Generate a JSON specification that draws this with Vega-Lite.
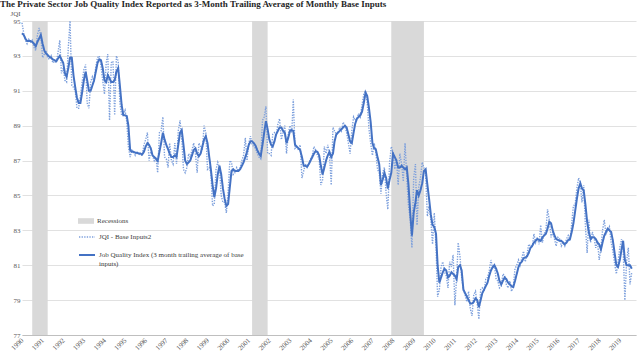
{
"$schema": "https://vega.github.io/schema/vega-lite/v6.json",
"width": 614, "height": 314,
"autosize": {"type": "none"},
"padding": {"left": 22, "top": 21, "right": 4, "bottom": 25},
"background": "white",
"title": {"text": "The Private Sector Job Quality Index Reported as 3-Month Trailing Average of Monthly Base Inputs", "anchor": "start", "frame": "group", "dx": -22, "offset": 0, "font": "Liberation Serif", "fontSize": 9, "fontWeight": "bold", "color": "#262626"},
"config": {
 "view": {"stroke": null},
 "font": "Liberation Serif",
 "axis": {"labelFont": "Liberation Serif", "labelColor": "#595959", "labelFontSize": 7, "ticks": false, "gridColor": "#d9d9d9", "gridWidth": 0.8},
 "axisX": {"grid": false, "domain": true, "domainColor": "#bfbfbf", "labelAngle": -45, "labelAlign": "right", "labelBaseline": "middle", "labelPadding": 4, "labelOverlap": false, "labelFlush": false},
 "axisY": {"grid": true, "domain": false, "labelPadding": 2}
},
"datasets": {
"r": [
{"s": "1990-07-01", "e": "1991-04-01", "l": "Recessions"},
{"s": "2001-03-01", "e": "2001-12-01", "l": "Recessions"},
{"s": "2007-12-01", "e": "2009-07-01", "l": "Recessions"}
],
"m": [
{"d":"1990-01-01","b":94.9,"j":94.3},{"d":"1990-02-01","b":94.3,"j":94.2},{"d":"1990-03-01","b":93.9,"j":94.0},{"d":"1990-04-01","b":93.7,"j":93.85},{"d":"1990-05-01","b":93.95,"j":93.85},{"d":"1990-06-01","b":93.8,"j":93.85},{"d":"1990-07-01","b":93.9,"j":93.8},{"d":"1990-08-01","b":93.5,"j":93.7},{"d":"1990-09-01","b":93.3,"j":93.55},{"d":"1990-10-01","b":94.2,"j":93.8},{"d":"1990-11-01","b":94.6,"j":94.0},{"d":"1990-12-01","b":94.1,"j":94.2},
{"d":"1991-01-01","b":92.9,"j":93.7},{"d":"1991-02-01","b":93.1,"j":93.3},{"d":"1991-03-01","b":93.3,"j":93.15},{"d":"1991-04-01","b":92.9,"j":93.05},{"d":"1991-05-01","b":92.8,"j":92.95},{"d":"1991-06-01","b":93.0,"j":92.9},{"d":"1991-07-01","b":92.6,"j":92.8},{"d":"1991-08-01","b":92.7,"j":92.75},{"d":"1991-09-01","b":92.6,"j":92.7},{"d":"1991-10-01","b":93.2,"j":92.85},{"d":"1991-11-01","b":93.9,"j":93.0},{"d":"1991-12-01","b":92.0,"j":92.8},
{"d":"1992-01-01","b":92.3,"j":92.6},{"d":"1992-02-01","b":91.6,"j":92.0},{"d":"1992-03-01","b":91.5,"j":91.8},{"d":"1992-04-01","b":93.5,"j":92.3},{"d":"1992-05-01","b":95.0,"j":92.9},{"d":"1992-06-01","b":91.3,"j":92.9},{"d":"1992-07-01","b":91.2,"j":91.9},{"d":"1992-08-01","b":91.0,"j":91.2},{"d":"1992-09-01","b":90.0,"j":90.6},{"d":"1992-10-01","b":90.0,"j":90.3},{"d":"1992-11-01","b":90.7,"j":90.3},{"d":"1992-12-01","b":91.5,"j":90.9},
{"d":"1993-01-01","b":92.2,"j":91.6},{"d":"1993-02-01","b":92.5,"j":92.1},{"d":"1993-03-01","b":90.3,"j":91.6},{"d":"1993-04-01","b":90.0,"j":91.0},{"d":"1993-05-01","b":91.5,"j":91.0},{"d":"1993-06-01","b":91.8,"j":91.3},{"d":"1993-07-01","b":91.5,"j":91.6},{"d":"1993-08-01","b":92.4,"j":92.1},{"d":"1993-09-01","b":92.9,"j":92.6},{"d":"1993-10-01","b":93.0,"j":92.8},{"d":"1993-11-01","b":92.4,"j":92.75},{"d":"1993-12-01","b":91.6,"j":92.3},
{"d":"1994-01-01","b":90.8,"j":91.6},{"d":"1994-02-01","b":92.6,"j":91.5},{"d":"1994-03-01","b":93.1,"j":91.9},{"d":"1994-04-01","b":89.3,"j":91.7},{"d":"1994-05-01","b":92.6,"j":91.5},{"d":"1994-06-01","b":92.7,"j":91.5},{"d":"1994-07-01","b":89.6,"j":91.6},{"d":"1994-08-01","b":93.0,"j":92.1},{"d":"1994-09-01","b":92.7,"j":92.3},{"d":"1994-10-01","b":90.3,"j":91.3},{"d":"1994-11-01","b":89.6,"j":90.2},{"d":"1994-12-01","b":89.7,"j":89.6},
{"d":"1995-01-01","b":89.9,"j":89.6},{"d":"1995-02-01","b":89.2,"j":89.55},{"d":"1995-03-01","b":87.8,"j":89.0},{"d":"1995-04-01","b":87.2,"j":87.6},{"d":"1995-05-01","b":87.6,"j":87.5},{"d":"1995-06-01","b":87.5,"j":87.5},{"d":"1995-07-01","b":87.3,"j":87.45},{"d":"1995-08-01","b":87.5,"j":87.45},{"d":"1995-09-01","b":87.4,"j":87.4},{"d":"1995-10-01","b":87.3,"j":87.4},{"d":"1995-11-01","b":87.3,"j":87.35},{"d":"1995-12-01","b":87.9,"j":87.5},
{"d":"1996-01-01","b":88.2,"j":87.8},{"d":"1996-02-01","b":88.6,"j":88.0},{"d":"1996-03-01","b":87.0,"j":87.9},{"d":"1996-04-01","b":87.5,"j":87.7},{"d":"1996-05-01","b":87.3,"j":87.3},{"d":"1996-06-01","b":87.0,"j":87.2},{"d":"1996-07-01","b":87.2,"j":87.1},{"d":"1996-08-01","b":86.3,"j":86.98},{"d":"1996-09-01","b":88.6,"j":87.5},{"d":"1996-10-01","b":88.7,"j":88.0},{"d":"1996-11-01","b":89.5,"j":88.6},{"d":"1996-12-01","b":87.2,"j":88.2},
{"d":"1997-01-01","b":87.1,"j":87.9},{"d":"1997-02-01","b":86.6,"j":87.65},{"d":"1997-03-01","b":88.0,"j":87.4},{"d":"1997-04-01","b":87.0,"j":87.2},{"d":"1997-05-01","b":86.8,"j":87.2},{"d":"1997-06-01","b":88.0,"j":87.3},{"d":"1997-07-01","b":86.8,"j":87.2},{"d":"1997-08-01","b":88.7,"j":87.9},{"d":"1997-09-01","b":89.3,"j":88.6},{"d":"1997-10-01","b":88.3,"j":88.75},{"d":"1997-11-01","b":86.5,"j":87.9},{"d":"1997-12-01","b":86.3,"j":87.0},
{"d":"1998-01-01","b":86.6,"j":86.8},{"d":"1998-02-01","b":87.4,"j":86.9},{"d":"1998-03-01","b":87.2,"j":87.0},{"d":"1998-04-01","b":87.6,"j":87.3},{"d":"1998-05-01","b":88.0,"j":87.6},{"d":"1998-06-01","b":87.4,"j":87.7},{"d":"1998-07-01","b":86.3,"j":87.4},{"d":"1998-08-01","b":88.0,"j":87.25},{"d":"1998-09-01","b":87.8,"j":87.4},{"d":"1998-10-01","b":87.6,"j":87.8},{"d":"1998-11-01","b":89.0,"j":88.2},{"d":"1998-12-01","b":88.6,"j":88.4},
{"d":"1999-01-01","b":86.5,"j":88.0},{"d":"1999-02-01","b":86.6,"j":87.2},{"d":"1999-03-01","b":86.3,"j":86.5},{"d":"1999-04-01","b":84.4,"j":85.6},{"d":"1999-05-01","b":84.5,"j":84.9},{"d":"1999-06-01","b":86.5,"j":85.4},{"d":"1999-07-01","b":86.9,"j":86.2},{"d":"1999-08-01","b":86.6,"j":86.7},{"d":"1999-09-01","b":85.0,"j":86.2},{"d":"1999-10-01","b":84.6,"j":85.4},{"d":"1999-11-01","b":84.6,"j":84.8},{"d":"1999-12-01","b":84.0,"j":84.4},
{"d":"2000-01-01","b":85.2,"j":84.5},{"d":"2000-02-01","b":87.0,"j":85.5},{"d":"2000-03-01","b":86.9,"j":86.4},{"d":"2000-04-01","b":86.2,"j":86.5},{"d":"2000-05-01","b":86.3,"j":86.4},{"d":"2000-06-01","b":86.6,"j":86.4},{"d":"2000-07-01","b":86.4,"j":86.4},{"d":"2000-08-01","b":86.6,"j":86.5},{"d":"2000-09-01","b":87.0,"j":86.7},{"d":"2000-10-01","b":87.3,"j":86.9},{"d":"2000-11-01","b":88.3,"j":87.2},{"d":"2000-12-01","b":87.0,"j":87.5},
{"d":"2001-01-01","b":88.0,"j":87.9},{"d":"2001-02-01","b":88.4,"j":88.1},{"d":"2001-03-01","b":87.9,"j":88.1},{"d":"2001-04-01","b":87.8,"j":88.0},{"d":"2001-05-01","b":87.7,"j":87.85},{"d":"2001-06-01","b":87.4,"j":87.6},{"d":"2001-07-01","b":87.2,"j":87.4},{"d":"2001-08-01","b":87.1,"j":87.26},{"d":"2001-09-01","b":89.3,"j":87.9},{"d":"2001-10-01","b":89.5,"j":88.6},{"d":"2001-11-01","b":90.1,"j":89.26},{"d":"2001-12-01","b":87.4,"j":88.8},
{"d":"2002-01-01","b":87.4,"j":88.2},{"d":"2002-02-01","b":87.3,"j":87.9},{"d":"2002-03-01","b":88.5,"j":87.8},{"d":"2002-04-01","b":88.6,"j":88.1},{"d":"2002-05-01","b":88.4,"j":88.5},{"d":"2002-06-01","b":89.1,"j":88.7},{"d":"2002-07-01","b":89.4,"j":88.9},{"d":"2002-08-01","b":88.2,"j":88.9},{"d":"2002-09-01","b":88.6,"j":88.7},{"d":"2002-10-01","b":89.0,"j":88.6},{"d":"2002-11-01","b":87.4,"j":88.0},{"d":"2002-12-01","b":88.5,"j":88.3},
{"d":"2003-01-01","b":89.0,"j":88.7},{"d":"2003-02-01","b":88.6,"j":88.75},{"d":"2003-03-01","b":90.5,"j":88.7},{"d":"2003-04-01","b":87.7,"j":87.9},{"d":"2003-05-01","b":87.8,"j":87.8},{"d":"2003-06-01","b":87.6,"j":87.7},{"d":"2003-07-01","b":87.9,"j":87.6},{"d":"2003-08-01","b":86.0,"j":87.2},{"d":"2003-09-01","b":86.4,"j":86.7},{"d":"2003-10-01","b":86.8,"j":86.7},{"d":"2003-11-01","b":86.6,"j":86.65},{"d":"2003-12-01","b":86.8,"j":86.8},
{"d":"2004-01-01","b":87.1,"j":87.0},{"d":"2004-02-01","b":87.3,"j":87.2},{"d":"2004-03-01","b":87.8,"j":87.4},{"d":"2004-04-01","b":87.6,"j":87.55},{"d":"2004-05-01","b":87.3,"j":87.5},{"d":"2004-06-01","b":87.1,"j":87.3},{"d":"2004-07-01","b":85.6,"j":86.7},{"d":"2004-08-01","b":85.9,"j":86.2},{"d":"2004-09-01","b":87.8,"j":86.6},{"d":"2004-10-01","b":87.4,"j":87.0},{"d":"2004-11-01","b":87.9,"j":87.3},{"d":"2004-12-01","b":87.4,"j":87.5},
{"d":"2005-01-01","b":85.6,"j":87.2},{"d":"2005-02-01","b":88.9,"j":87.4},{"d":"2005-03-01","b":88.7,"j":88.1},{"d":"2005-04-01","b":88.5,"j":88.5},{"d":"2005-05-01","b":88.6,"j":88.6},{"d":"2005-06-01","b":88.9,"j":88.7},{"d":"2005-07-01","b":88.7,"j":88.8},{"d":"2005-08-01","b":89.2,"j":88.9},{"d":"2005-09-01","b":89.0,"j":89.0},{"d":"2005-10-01","b":88.6,"j":88.9},{"d":"2005-11-01","b":88.0,"j":88.5},{"d":"2005-12-01","b":87.4,"j":88.1},
{"d":"2006-01-01","b":88.7,"j":88.0},{"d":"2006-02-01","b":89.5,"j":88.6},{"d":"2006-03-01","b":89.3,"j":89.1},{"d":"2006-04-01","b":89.4,"j":89.4},{"d":"2006-05-01","b":89.7,"j":89.5},{"d":"2006-06-01","b":89.5,"j":89.6},{"d":"2006-07-01","b":90.2,"j":89.8},{"d":"2006-08-01","b":90.8,"j":90.3},{"d":"2006-09-01","b":91.0,"j":90.9},{"d":"2006-10-01","b":90.3,"j":90.7},{"d":"2006-11-01","b":88.8,"j":90.0},{"d":"2006-12-01","b":88.0,"j":89.2},
{"d":"2007-01-01","b":87.3,"j":88.0},{"d":"2007-02-01","b":88.0,"j":87.7},{"d":"2007-03-01","b":87.5,"j":87.65},{"d":"2007-04-01","b":86.5,"j":87.2},{"d":"2007-05-01","b":86.3,"j":86.8},{"d":"2007-06-01","b":85.1,"j":85.6},{"d":"2007-07-01","b":86.3,"j":85.9},{"d":"2007-08-01","b":86.6,"j":86.3},{"d":"2007-09-01","b":85.1,"j":86.0},{"d":"2007-10-01","b":84.2,"j":85.4},{"d":"2007-11-01","b":86.9,"j":85.9},{"d":"2007-12-01","b":87.8,"j":86.3},
{"d":"2008-01-01","b":87.5,"j":87.4},{"d":"2008-02-01","b":86.5,"j":87.2},{"d":"2008-03-01","b":87.1,"j":87.0},{"d":"2008-04-01","b":85.6,"j":86.6},{"d":"2008-05-01","b":87.4,"j":86.6},{"d":"2008-06-01","b":86.8,"j":86.7},{"d":"2008-07-01","b":85.8,"j":86.6},{"d":"2008-08-01","b":88.0,"j":86.5},{"d":"2008-09-01","b":86.0,"j":86.6},{"d":"2008-10-01","b":84.4,"j":85.6},{"d":"2008-11-01","b":83.6,"j":84.0},{"d":"2008-12-01","b":82.0,"j":82.7},
{"d":"2009-01-01","b":86.0,"j":84.0},{"d":"2009-02-01","b":86.8,"j":84.6},{"d":"2009-03-01","b":83.3,"j":85.3},{"d":"2009-04-01","b":85.5,"j":85.0},{"d":"2009-05-01","b":86.0,"j":85.3},{"d":"2009-06-01","b":86.9,"j":85.7},{"d":"2009-07-01","b":86.6,"j":86.4},{"d":"2009-08-01","b":86.2,"j":86.5},{"d":"2009-09-01","b":83.8,"j":85.6},{"d":"2009-10-01","b":84.4,"j":84.8},{"d":"2009-11-01","b":83.6,"j":83.9},{"d":"2009-12-01","b":82.2,"j":83.3},
{"d":"2010-01-01","b":84.0,"j":83.2},{"d":"2010-02-01","b":82.0,"j":82.8},{"d":"2010-03-01","b":79.2,"j":81.0},{"d":"2010-04-01","b":79.6,"j":80.0},{"d":"2010-05-01","b":80.9,"j":80.3},{"d":"2010-06-01","b":81.2,"j":80.6},{"d":"2010-07-01","b":80.6,"j":80.8},{"d":"2010-08-01","b":80.4,"j":80.7},{"d":"2010-09-01","b":79.7,"j":80.3},{"d":"2010-10-01","b":81.2,"j":80.4},{"d":"2010-11-01","b":80.9,"j":80.6},{"d":"2010-12-01","b":81.6,"j":80.5},
{"d":"2011-01-01","b":78.7,"j":80.4},{"d":"2011-02-01","b":80.3,"j":80.2},{"d":"2011-03-01","b":82.3,"j":80.9},{"d":"2011-04-01","b":81.5,"j":81.0},{"d":"2011-05-01","b":80.3,"j":80.7},{"d":"2011-06-01","b":79.6,"j":79.6},{"d":"2011-07-01","b":79.3,"j":79.4},{"d":"2011-08-01","b":78.9,"j":79.2},{"d":"2011-09-01","b":79.5,"j":79.0},{"d":"2011-10-01","b":78.5,"j":78.8},{"d":"2011-11-01","b":78.1,"j":78.8},{"d":"2011-12-01","b":79.3,"j":78.9},
{"d":"2012-01-01","b":79.5,"j":79.1},{"d":"2012-02-01","b":78.8,"j":79.0},{"d":"2012-03-01","b":77.9,"j":78.6},{"d":"2012-04-01","b":79.6,"j":79.0},{"d":"2012-05-01","b":79.7,"j":79.4},{"d":"2012-06-01","b":79.5,"j":79.6},{"d":"2012-07-01","b":80.2,"j":79.8},{"d":"2012-08-01","b":80.3,"j":80.0},{"d":"2012-09-01","b":80.7,"j":80.4},{"d":"2012-10-01","b":81.3,"j":80.7},{"d":"2012-11-01","b":80.8,"j":80.9},{"d":"2012-12-01","b":81.0,"j":81.0},
{"d":"2013-01-01","b":80.2,"j":80.8},{"d":"2013-02-01","b":80.1,"j":80.5},{"d":"2013-03-01","b":79.7,"j":80.1},{"d":"2013-04-01","b":79.8,"j":79.9},{"d":"2013-05-01","b":80.5,"j":80.1},{"d":"2013-06-01","b":80.4,"j":80.3},{"d":"2013-07-01","b":79.9,"j":80.2},{"d":"2013-08-01","b":79.7,"j":80.0},{"d":"2013-09-01","b":80.1,"j":79.9},{"d":"2013-10-01","b":79.5,"j":79.8},{"d":"2013-11-01","b":79.8,"j":79.75},{"d":"2013-12-01","b":80.8,"j":80.1},
{"d":"2014-01-01","b":81.0,"j":80.5},{"d":"2014-02-01","b":81.3,"j":80.9},{"d":"2014-03-01","b":81.0,"j":81.1},{"d":"2014-04-01","b":81.4,"j":81.2},{"d":"2014-05-01","b":81.8,"j":81.4},{"d":"2014-06-01","b":81.2,"j":81.45},{"d":"2014-07-01","b":81.6,"j":81.5},{"d":"2014-08-01","b":82.2,"j":81.7},{"d":"2014-09-01","b":82.1,"j":82.0},{"d":"2014-10-01","b":82.0,"j":82.1},{"d":"2014-11-01","b":82.8,"j":82.3},{"d":"2014-12-01","b":82.3,"j":82.4},
{"d":"2015-01-01","b":82.6,"j":82.5},{"d":"2015-02-01","b":82.2,"j":82.45},{"d":"2015-03-01","b":83.3,"j":82.4},{"d":"2015-04-01","b":82.3,"j":82.6},{"d":"2015-05-01","b":82.8,"j":82.7},{"d":"2015-06-01","b":83.0,"j":82.8},{"d":"2015-07-01","b":84.2,"j":83.1},{"d":"2015-08-01","b":83.6,"j":83.5},{"d":"2015-09-01","b":82.6,"j":83.4},{"d":"2015-10-01","b":82.9,"j":83.0},{"d":"2015-11-01","b":82.5,"j":82.7},{"d":"2015-12-01","b":82.1,"j":82.5},
{"d":"2016-01-01","b":82.6,"j":82.45},{"d":"2016-02-01","b":82.5,"j":82.4},{"d":"2016-03-01","b":82.1,"j":82.4},{"d":"2016-04-01","b":82.3,"j":82.3},{"d":"2016-05-01","b":82.1,"j":82.2},{"d":"2016-06-01","b":82.5,"j":82.3},{"d":"2016-07-01","b":82.7,"j":82.45},{"d":"2016-08-01","b":82.4,"j":82.5},{"d":"2016-09-01","b":83.4,"j":82.9},{"d":"2016-10-01","b":84.4,"j":83.4},{"d":"2016-11-01","b":84.5,"j":84.1},{"d":"2016-12-01","b":85.4,"j":84.8},
{"d":"2017-01-01","b":86.0,"j":85.4},{"d":"2017-02-01","b":85.7,"j":85.7},{"d":"2017-03-01","b":84.6,"j":85.4},{"d":"2017-04-01","b":85.6,"j":85.3},{"d":"2017-05-01","b":83.3,"j":84.5},{"d":"2017-06-01","b":81.7,"j":83.5},{"d":"2017-07-01","b":83.6,"j":82.9},{"d":"2017-08-01","b":82.3,"j":82.5},{"d":"2017-09-01","b":82.9,"j":82.6},{"d":"2017-10-01","b":82.6,"j":82.6},{"d":"2017-11-01","b":82.0,"j":82.5},{"d":"2017-12-01","b":82.4,"j":82.3},
{"d":"2018-01-01","b":81.3,"j":82.2},{"d":"2018-02-01","b":82.0,"j":81.9},{"d":"2018-03-01","b":83.0,"j":82.3},{"d":"2018-04-01","b":83.6,"j":82.7},{"d":"2018-05-01","b":82.8,"j":82.9},{"d":"2018-06-01","b":83.0,"j":83.1},{"d":"2018-07-01","b":83.2,"j":83.0},{"d":"2018-08-01","b":82.3,"j":82.9},{"d":"2018-09-01","b":81.8,"j":82.4},{"d":"2018-10-01","b":81.1,"j":81.7},{"d":"2018-11-01","b":80.5,"j":81.0},{"d":"2018-12-01","b":81.2,"j":80.9},
{"d":"2019-01-01","b":82.0,"j":81.3},{"d":"2019-02-01","b":82.5,"j":81.9},{"d":"2019-03-01","b":82.0,"j":82.4},{"d":"2019-04-01","b":79.0,"j":81.3},{"d":"2019-05-01","b":81.2,"j":81.0},{"d":"2019-06-01","b":82.0,"j":81.0},{"d":"2019-07-01","b":79.9,"j":81.0},{"d":"2019-08-01","b":80.6,"j":80.8}
]
},
"layer": [
{
 "data": {"name": "r"},
 "mark": {"type": "rect"},
 "encoding": {
  "x": {"field": "s", "type": "temporal", "title": null, "scale": {"type": "utc", "domain": ["1990-01-01", "2019-10-15"]}, "axis": {"format": "%Y", "formatType": "utc", "tickCount": {"interval": "year", "step": 1}}},
  "x2": {"field": "e"},
  "fill": {"field": "l", "type": "nominal", "scale": {"range": ["#d9d9d9"]}, "legend": {"orient": "none", "legendX": 56, "legendY": 192, "title": null, "symbolType": "M-1,-0.35H1V0.35H-1Z", "symbolSize": 256, "symbolStrokeWidth": 0, "labelFontSize": 7, "labelFont": "Liberation Serif", "labelColor": "#404040", "labelOffset": 3}}
 }
},
{
 "data": {"name": "m"},
 "transform": [{"fold": ["b", "j"], "as": ["k", "v"]}],
 "mark": {"type": "line", "interpolate": "linear"},
 "encoding": {
  "x": {"field": "d", "type": "temporal", "title": null, "scale": {"type": "utc", "domain": ["1990-01-01", "2019-10-15"]}, "axis": {"format": "%Y", "formatType": "utc", "tickCount": {"interval": "year", "step": 1}}},
  "y": {"field": "v", "type": "quantitative", "scale": {"domain": [77, 95], "nice": false, "zero": false}, "axis": {"values": [77, 79, 81, 83, 85, 87, 89, 91, 93, 95], "title": "JQI", "titleAngle": 0, "titleX": -12, "titleY": -6, "titleAlign": "left", "titleBaseline": "alphabetic", "titleFont": "Liberation Serif", "titleFontSize": 7, "titleFontWeight": "normal", "titleColor": "#595959"}},
  "stroke": {"field": "k", "type": "nominal", "scale": {"domain": ["b", "j"], "range": ["#7c9fdc", "#4472c4"]}, "legend": {"orient": "none", "legendX": 56, "legendY": 207, "title": null, "labelExpr": "datum.value == 'b' ? 'JQI - Base Inputs2' : ['Job Quality Index (3 month trailing average of base', 'inputs)']", "symbolSize": 256, "rowPadding": 6, "labelFontSize": 7, "labelFont": "Liberation Serif", "labelColor": "#404040", "labelOffset": 3, "labelLimit": 400}},
  "strokeDash": {"field": "k", "type": "nominal", "scale": {"domain": ["b", "j"], "range": [[1.3, 1.3], [1, 0]]}},
  "strokeWidth": {"field": "k", "type": "nominal", "scale": {"domain": ["b", "j"], "range": [1.4, 2.0]}}
 }
}
]
}
